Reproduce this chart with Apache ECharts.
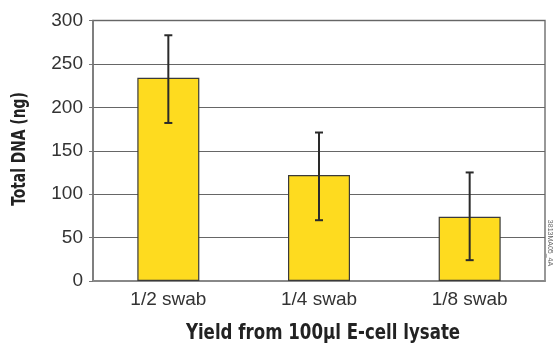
<!DOCTYPE html>
<html><head><meta charset="utf-8">
<script src="https://cdn.jsdelivr.net/npm/echarts@6/dist/echarts.min.js"></script>
<style>html,body{margin:0;padding:0;background:#fff}#c{width:555px;height:346px}</style>
</head><body><div id="c"></div>
<script>
const categories = ['1/2 swab', '1/4 swab', '1/8 swab'];
const values = [234, 122, 74];
const errLow = [182, 70, 24];
const errHigh = [283, 171, 125];
const yTicks = [0, 50, 100, 150, 200, 250, 300];

const chart = echarts.init(document.getElementById('c'), null, {renderer: 'canvas'});
const labelFont = {fontFamily: 'Liberation Sans, Arial, sans-serif', fontSize: 19, color: '#333'};
const titleFont = '"Liberation Sans Narrow", "DejaVu Sans Condensed", sans-serif';
chart.setOption({
  animation: false,
  grid: {left: 93, right: 10, top: 20.5, bottom: 65, show: true, borderColor: '#777', borderWidth: 1.5, backgroundColor: 'transparent'},
  xAxis: {
    type: 'category', data: categories,
    axisLine: {lineStyle: {color: '#888', width: 2}},
    axisTick: {show: false},
    axisLabel: Object.assign({margin: 9}, labelFont)
  },
  yAxis: {
    type: 'value', min: yTicks[0], max: yTicks[yTicks.length - 1], interval: 50,
    axisLine: {show: true, lineStyle: {color: '#777', width: 1.5}},
    axisTick: {show: true, length: 4, lineStyle: {color: '#777'}},
    splitLine: {lineStyle: {color: '#666', width: 1}},
    axisLabel: Object.assign({margin: 10}, labelFont)
  },
  series: [
    {
      type: 'bar', data: values, barWidth: 62,
      itemStyle: {color: '#FEDB1F', borderColor: '#3a3a3a', borderWidth: 1.2},
      z: 2
    },
    {
      type: 'custom', z: 5,
      data: categories.map((c, i) => [i, errLow[i], errHigh[i]]),
      renderItem: function (params, api) {
        const lo = api.coord([api.value(0), api.value(1)]);
        const hi = api.coord([api.value(0), api.value(2)]);
        const hw = 4;
        const st = {stroke: '#2a2a2a', lineWidth: 2};
        return {type: 'group', children: [
          {type: 'line', shape: {x1: lo[0], y1: lo[1], x2: hi[0], y2: hi[1]}, style: st},
          {type: 'line', shape: {x1: lo[0] - hw, y1: lo[1], x2: lo[0] + hw, y2: lo[1]}, style: st},
          {type: 'line', shape: {x1: hi[0] - hw, y1: hi[1], x2: hi[0] + hw, y2: hi[1]}, style: st}
        ]};
      }
    }
  ],
  graphic: [
    {type: 'text', x: 20, y: 149, rotation: Math.PI / 2, scaleX: 0.81,
      style: {text: 'Total DNA (ng)', font: 'bold 19px ' + titleFont, fill: '#222', textAlign: 'center', textVerticalAlign: 'middle'}},
    {type: 'text', x: 323, y: 333, scaleX: 0.84,
      style: {text: 'Yield from 100µl E-cell lysate', font: 'bold 22px ' + titleFont, fill: '#222', textAlign: 'center', textVerticalAlign: 'middle'}},
    {type: 'text', x: 550, y: 243, rotation: -Math.PI / 2,
      style: {text: '3813MA05_4A', font: '7px "Liberation Sans", sans-serif', fill: '#666', textAlign: 'center', textVerticalAlign: 'middle'}}
  ]
});
</script></body></html>
